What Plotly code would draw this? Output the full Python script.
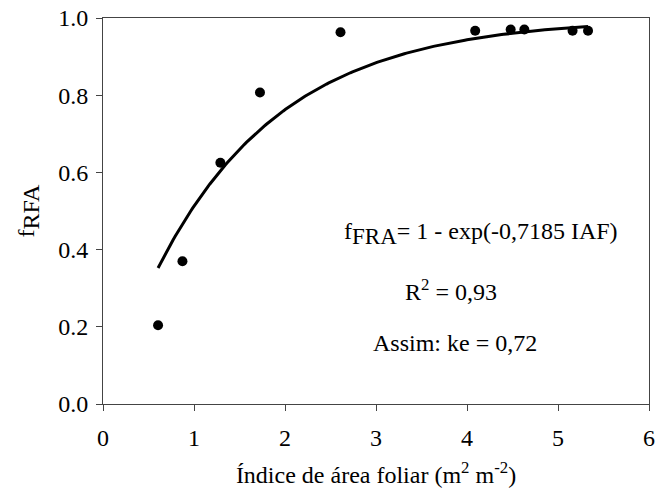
import numpy as np
import plotly.graph_objects as go

iaf = [0.605, 0.873, 1.29, 1.725, 2.61, 4.09, 4.48, 4.63, 5.16, 5.33]
frfa = [0.204, 0.370, 0.625, 0.807, 0.963, 0.967, 0.970, 0.970, 0.967, 0.967]
k_fit = 0.7185
x_ticks = [0, 1, 2, 3, 4, 5, 6]
y_ticks = [0.0, 0.2, 0.4, 0.6, 0.8, 1.0]

xf = np.linspace(min(iaf), max(iaf), 200)
yf = 1 - np.exp(-k_fit * xf)

FONT = "Liberation Serif, Times New Roman, serif"
FS = 24

fig = go.Figure()
fig.add_trace(go.Scatter(x=xf, y=yf, mode="lines",
                         line=dict(color="black", width=3), showlegend=False,
                         hoverinfo="skip"))
fig.add_trace(go.Scatter(x=iaf, y=frfa, mode="markers",
                         marker=dict(color="black", size=10), showlegend=False))

fig.update_layout(
    width=660, height=493,
    margin=dict(l=103, r=5, t=17, b=89),
    paper_bgcolor="white", plot_bgcolor="white",
    font=dict(family=FONT, size=FS, color="black"),
    xaxis=dict(range=[0, 6], tickvals=x_ticks, ticks="outside", ticklen=6,
               tickcolor="#444", showline=True, linecolor="#444", linewidth=1,
               mirror=True, showgrid=False, zeroline=False,
               ticklabeloverflow="allow", ticklabelstandoff=6,
               tickfont=dict(family=FONT, size=FS),
               title=dict(text="Índice de área foliar (m<sup>2</sup> m<sup>-2</sup>)",
                          font=dict(family=FONT, size=FS), standoff=16)),
    yaxis=dict(range=[0, 1.0], tickvals=y_ticks, tickformat=".1f", ticks="outside",
               ticklen=6, tickcolor="#444", showline=True, linecolor="#444",
               linewidth=1, mirror=True, showgrid=False, zeroline=False,
               ticklabelstandoff=3,
               tickfont=dict(family=FONT, size=FS),
               title=dict(text="f<sub><span style='font-size:24px'>RFA</span></sub>",
                          font=dict(family=FONT, size=FS), standoff=16)),
)

fig.add_annotation(x=485, y=233,
                   text="f<sub><span style='font-size:23px'>FRA</span></sub>= 1 - exp(-0,7185 IAF)",
                   showarrow=False, font=dict(family=FONT, size=FS))
fig.add_annotation(x=455, y=290, text="R<sup>2</sup> = 0,93", showarrow=False,
                   font=dict(family=FONT, size=FS))
fig.add_annotation(x=459, y=343, text="Assim: ke = 0,72", showarrow=False,
                   font=dict(family=FONT, size=FS))

# convert pixel positions of annotations to data coordinates
for a in fig.layout.annotations:
    px, py = a.x, a.y
    a.xref = "x"
    a.yref = "y"
    a.x = (px - 103) / 92.0
    a.y = (404 - py) / 387.0

fig.write_html("out.html")
